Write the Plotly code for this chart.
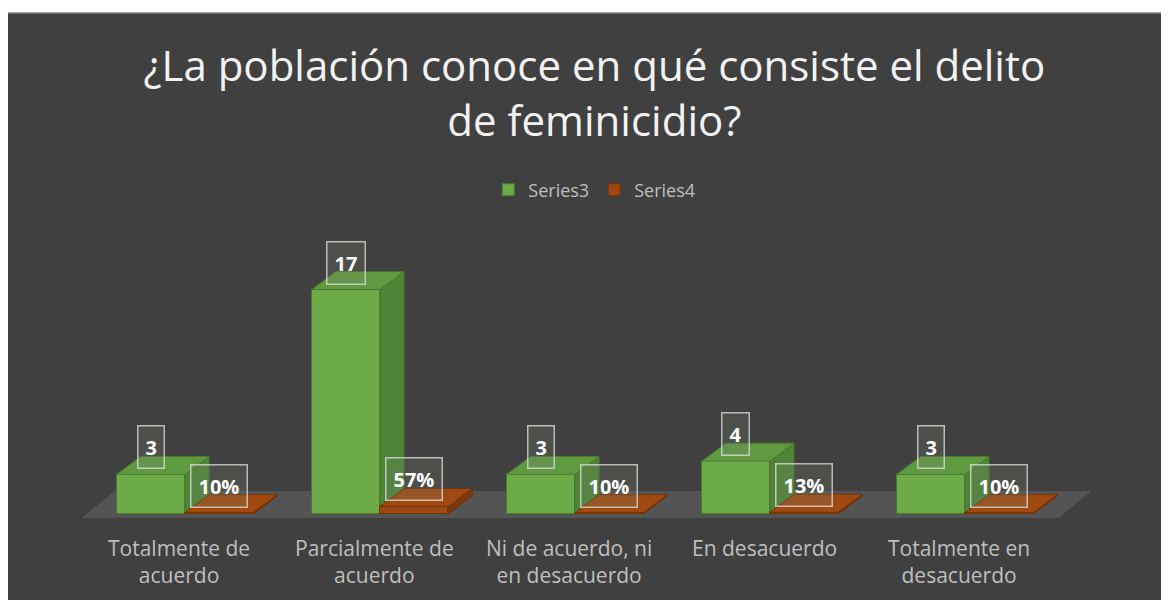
import plotly.graph_objects as go

# ---------------- data ----------------
categories = [
    "Totalmente de<br>acuerdo",
    "Parcialmente de<br>acuerdo",
    "Ni de acuerdo, ni<br>en desacuerdo",
    "En desacuerdo",
    "Totalmente en<br>desacuerdo",
]
series_names = ["Series3", "Series4"]
series3 = [3, 17, 3, 4, 3]
series4 = [0.10, 0.57, 0.10, 0.13, 0.10]
title_text = "¿La población conoce en qué consiste el delito<br>de feminicidio?"

# ---------------- style / geometry ----------------
W, H = 1161, 592      # page has an 8px body margin
BAR_W = 0.35          # width of each bar (category units)
DX, DY = 0.123, 1.364  # 3D depth offset in data units
X_RANGE = [-0.9077, 5.0462]
Y_RANGE = [-6.515, 38.333]

GREEN = dict(front="#6dab48", top="#5f9a41", side="#4f8436", line="#4a7a2f")
ORANGE = dict(front="#a04812", top="#a04a12", side="#7a380b", line="#74330a")

FONT = "Open Sans"
n = len(categories)
xs = list(range(n))

fig = go.Figure()

# floor (shape in data coordinates, drawn under the bars)
fl_l, fl_r = -0.53, (n - 1) + 0.48
fl_front, fl_depth_y, fl_depth_x = -0.30, 2.045, 0.169
floor_path = (
    f"M {fl_l},{fl_front} L {fl_r},{fl_front} "
    f"L {fl_r + fl_depth_x},{fl_front + fl_depth_y} "
    f"L {fl_l + fl_depth_x},{fl_front + fl_depth_y} Z"
)

# front faces as bars
green_x = [i - BAR_W / 2 for i in xs]
orange_x = [i + BAR_W / 2 for i in xs]
fig.add_trace(go.Bar(
    x=green_x, y=series3, width=BAR_W, name=series_names[0],
    marker=dict(color=GREEN["front"], line=dict(color=GREEN["line"], width=1)),
    hoverinfo="skip",
))
fig.add_trace(go.Bar(
    x=orange_x, y=series4, width=BAR_W, name=series_names[1],
    marker=dict(color=ORANGE["front"], line=dict(color=ORANGE["line"], width=1)),
    hoverinfo="skip",
))


def poly_trace(polys, fill, line):
    px, py = [], []
    for p in polys:
        for (a, b) in p + [p[0]]:
            px.append(a)
            py.append(b)
        px.append(None)
        py.append(None)
    return go.Scatter(x=px, y=py, mode="lines", fill="toself", fillcolor=fill,
                      line=dict(color=line, width=1), showlegend=False,
                      hoverinfo="skip")


g_top, g_side, o_top, o_side = [], [], [], []
for i, v3, v4 in zip(xs, series3, series4):
    gl, gr = i - BAR_W, i
    ol, orr = i, i + BAR_W
    g_top.append([(gl, v3), (gr, v3), (gr + DX, v3 + DY), (gl + DX, v3 + DY)])
    # visible part of the green right face (above the orange slab)
    g_side.append([(gr, v4), (gr, v3), (gr + DX, v3 + DY), (gr + DX, v4 + DY)])
    o_top.append([(ol, v4), (orr, v4), (orr + DX, v4 + DY), (ol + DX, v4 + DY)])
    o_side.append([(orr, 0), (orr, v4), (orr + DX, v4 + DY), (orr + DX, DY)])

fig.add_trace(poly_trace(g_side, GREEN["side"], GREEN["line"]))
fig.add_trace(poly_trace(g_top, GREEN["top"], GREEN["line"]))
fig.add_trace(poly_trace(o_side, ORANGE["side"], ORANGE["line"]))
fig.add_trace(poly_trace(o_top, ORANGE["top"], ORANGE["line"]))

annotations = []
# data labels
for xv, yv, txt in list(zip(green_x, series3, [str(v) for v in series3])) + \
        list(zip(orange_x, series4, [f"{v:.0%}" for v in series4])):
    annotations.append(dict(
        x=xv, y=yv, xref="x", yref="y", text=txt, showarrow=False,
        yshift=27, xanchor="center", yanchor="middle",
        font=dict(family=FONT, size=20, color="#ffffff", weight="bold"),
        bgcolor="rgba(120,130,110,0.22)", bordercolor="rgba(225,225,225,0.75)",
        borderwidth=1.5, borderpad=7,
    ))
# category labels
for i, cat in zip(xs, categories):
    annotations.append(dict(
        x=i - 0.03, y=1 - 524 / H, xref="x", yref="paper", text=cat,
        showarrow=False, xanchor="center", yanchor="top", align="center",
        font=dict(family=FONT, size=21, color="#bfbfbf"),
    ))

fig.update_layout(
    width=W, height=H, autosize=False,
    margin=dict(l=0, r=0, t=0, b=0),
    paper_bgcolor="white", plot_bgcolor="white",
    barmode="overlay", bargap=0,
    title=dict(text=title_text, x=0.505, xanchor="center", y=1 - 73 / H,
               yanchor="top", yref="container",
               font=dict(family=FONT, size=42, color="#f2f2f2")),
    legend=dict(orientation="h", x=0.505, xanchor="center", y=1 - 182 / H,
                yanchor="middle", font=dict(family=FONT, size=18, color="#bfbfbf"),
                bgcolor="rgba(0,0,0,0)", traceorder="normal"),
    xaxis=dict(range=X_RANGE, visible=False, fixedrange=True),
    yaxis=dict(range=Y_RANGE, visible=False, fixedrange=True),
    shapes=[
        dict(type="rect", xref="paper", yref="paper", x0=-0.001, x1=1.01,
             y0=-0.01, y1=1 - 5 / H, fillcolor="#404040",
             line=dict(color="#808080", width=1.5), layer="below"),
        dict(type="path", xref="x", yref="y", path=floor_path,
             fillcolor="#545454", line=dict(width=0), layer="below"),
    ],
    annotations=annotations,
)

fig.write_html("out.html")
